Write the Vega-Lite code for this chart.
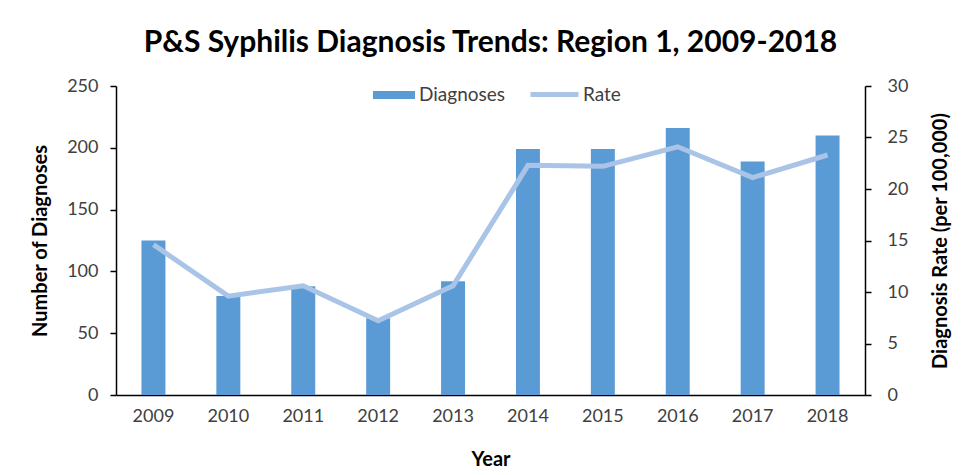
{
  "$schema": "https://vega.github.io/schema/vega-lite/v6.json",
  "autosize": {"type": "none"},
  "width": 749,
  "height": 309,
  "padding": {"left": 116, "top": 86, "right": 101, "bottom": 80},
  "background": "white",
  "config": {
    "font": "Lato",
    "view": {"stroke": null},
    "axis": {"grid": false, "domainColor": "black", "domainWidth": 1.5, "tickColor": "black", "tickWidth": 1.5, "labelColor": "#404040", "labelFontSize": 18, "titleFontSize": 20, "titleFontWeight": "bold", "titleColor": "black", "labelFont": "Lato", "titleFont": "Lato"}
  },
  "title": {"text": "P&S Syphilis Diagnosis Trends: Region 1, 2009-2018", "fontSize": 30, "fontWeight": "bold", "color": "black", "font": "Lato", "offset": 10},
  "data": {"values": [
    {"year": "2009", "diagnoses": 125, "rate": 14.6},
    {"year": "2010", "diagnoses": 80, "rate": 9.6},
    {"year": "2011", "diagnoses": 88, "rate": 10.6},
    {"year": "2012", "diagnoses": 62, "rate": 7.2},
    {"year": "2013", "diagnoses": 92, "rate": 10.6},
    {"year": "2014", "diagnoses": 199, "rate": 22.3},
    {"year": "2015", "diagnoses": 199, "rate": 22.2},
    {"year": "2016", "diagnoses": 216, "rate": 24.1},
    {"year": "2017", "diagnoses": 189, "rate": 21.1},
    {"year": "2018", "diagnoses": 210, "rate": 23.3}
  ]},
  "encoding": {
    "x": {"field": "year", "type": "nominal", "title": "Year", "scale": {"paddingInner": 0, "paddingOuter": 0},
      "axis": {"labelAngle": 0, "ticks": false, "labelPadding": 12, "titlePadding": 24}}
  },
  "layer": [
    {
      "mark": {"type": "bar", "width": {"band": 0.32}},
      "encoding": {
        "y": {"field": "diagnoses", "type": "quantitative", "title": "Number of Diagnoses",
          "scale": {"domain": [0, 250]},
          "axis": {"values": [0, 50, 100, 150, 200, 250], "tickSize": 6, "labelPadding": 12, "titlePadding": 16}},
        "color": {"datum": "Diagnoses", "type": "nominal", "scale": {"range": ["#5b9bd5"]},
          "legend": {"title": null, "orient": "none", "legendX": 257, "legendY": -12, "symbolType": "M-1,-0.19H1V0.19H-1Z", "symbolSize": 1764, "symbolStrokeWidth": 0, "labelFontSize": 19, "labelColor": "#404040", "labelOffset": 4}}
      }
    },
    {
      "mark": {"type": "line", "strokeWidth": 5},
      "encoding": {
        "y": {"field": "rate", "type": "quantitative", "title": "Diagnosis Rate (per 100,000)",
          "scale": {"domain": [0, 30]},
          "axis": {"orient": "right", "values": [0, 5, 10, 15, 20, 25, 30], "tickSize": 6, "labelPadding": 16, "titlePadding": 43, "titleAngle": 270}},
        "stroke": {"datum": "Rate", "type": "nominal", "scale": {"range": ["#a9c4e6"]},
          "legend": {"title": null, "orient": "none", "legendX": 412, "legendY": -18, "symbolType": "stroke", "symbolSize": 2304, "symbolStrokeWidth": 5, "labelFontSize": 19, "labelColor": "#404040", "labelOffset": 2}}
      }
    }
  ],
  "resolve": {"scale": {"y": "independent"}}
}
